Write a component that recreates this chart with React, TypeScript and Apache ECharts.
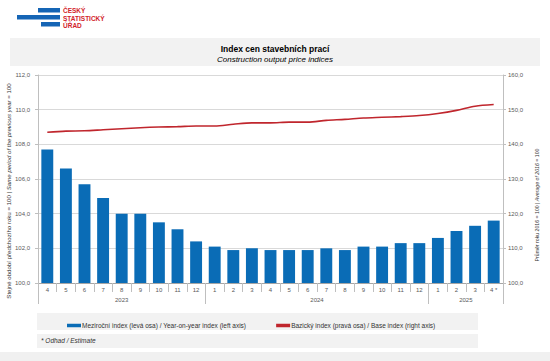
import React, { useEffect, useRef } from "react";
import * as echarts from "echarts";

const months = ["4","5","6","7","8","9","10","11","12","1","2","3","4","5","6","7","8","9","10","11","12","1","2","3","4 *"];
const yearLabels = ["2023", "2024", "2025"];
const yearCounts = [9, 12, 4];
const yoyIndex = [107.7,106.6,105.7,104.9,104.0,104.0,103.5,103.1,102.4,102.1,101.9,102.0,101.9,101.9,101.9,102.0,101.9,102.1,102.1,102.3,102.3,102.6,103.0,103.3,103.6];
const baseIndex = [143.5,143.8,143.9,144.2,144.5,144.8,145.0,145.1,145.3,145.3,145.8,146.2,146.2,146.4,146.4,146.9,147.2,147.6,147.8,148.0,148.3,148.9,149.8,151.0,151.5];

const seriesNames = [
  "Meziroční index (levá osa) / Year-on-year index (left axis)",
  "Bazický index (pravá osa) / Base index (right axis)",
];

const FONT = "'Liberation Sans', Arial, sans-serif";
const BLUE = "#0a6cb6";
const RED = "#c0262d";
const TXT = "#595959";

export default function App() {
  const ref = useRef<HTMLDivElement>(null);
  useEffect(() => {
    if (!ref.current) return;
    const chart = echarts.init(ref.current, null, { renderer: "svg" });

    const boundaries: number[] = [0];
    const centers: number[] = [];
    let acc = 0;
    yearCounts.forEach((c) => {
      centers.push(acc + c / 2);
      acc += c;
      boundaries.push(acc);
    });

    const fmt = (v: number) => v.toFixed(1).replace(".", ",");

    chart.setOption({
      animation: false,
      backgroundColor: "#ffffff",
      textStyle: { fontFamily: FONT },
      title: {
        text: "Index cen stavebních prací",
        subtext: "Construction output price indices",
        left: "center",
        top: 39,
        itemGap: 2,
        textStyle: { fontSize: 8.5, fontWeight: "bold", color: "#000", fontFamily: FONT },
        subtextStyle: { fontSize: 8, fontStyle: "italic", color: "#000", fontFamily: FONT },
      },
      graphic: [
        { type: "rect", z: -10, shape: { x: 10, y: 38, width: 530, height: 28 }, style: { fill: "#f2f2f2" } },
        { type: "rect", z: -10, shape: { x: 37, y: 313, width: 441, height: 17 }, style: { fill: "#f2f2f2" } },
        { type: "rect", z: -10, shape: { x: 37, y: 334, width: 441, height: 14 }, style: { fill: "#f2f2f2" } },
        { type: "rect", z: -10, shape: { x: 0, y: 352, width: 550, height: 9 }, style: { fill: "#f0f0f0" } },
        { type: "text", x: 41, y: 337, style: { text: "* Odhad / Estimate", font: "italic 6.5px " + FONT, fill: "#333" } },
        { type: "rect", shape: { x: 38, y: 8, width: 22, height: 4.5 }, style: { fill: "#1565b5" } },
        { type: "rect", shape: { x: 17, y: 15, width: 43, height: 4.5 }, style: { fill: "#1565b5" } },
        { type: "rect", shape: { x: 41, y: 22, width: 19, height: 4.5 }, style: { fill: "#1565b5" } },
        { type: "text", x: 63, y: 7, style: { text: "ČESKÝ", font: "bold 6.5px " + FONT, fill: "#d2232a" } },
        { type: "text", x: 63, y: 14.5, style: { text: "STATISTICKÝ", font: "bold 6.5px " + FONT, fill: "#d2232a" } },
        { type: "text", x: 63, y: 22, style: { text: "ÚŘAD", font: "bold 6.5px " + FONT, fill: "#d2232a" } },
        {
          type: "text",
          x: 8,
          y: 191,
          rotation: Math.PI / 2,
          style: {
            text: "{a|Stejné období předchozího roku = 100 | }{b|Same period of the previous year}{a| = 100}",
            align: "center",
            verticalAlign: "middle",
            rich: {
              a: { fontSize: 6.1, fontFamily: FONT, fill: "#333" },
              b: { fontSize: 6.1, fontFamily: FONT, fontStyle: "italic", fill: "#333" },
            },
          },
        },
        {
          type: "text",
          x: 537,
          y: 205,
          rotation: Math.PI / 2,
          style: {
            text: "{a|Průměr roku 2016 = 100 | }{b|Average of 2016}{a| = 100}",
            align: "center",
            verticalAlign: "middle",
            rich: {
              a: { fontSize: 5.2, fontFamily: FONT, fill: "#333" },
              b: { fontSize: 5.2, fontFamily: FONT, fontStyle: "italic", fill: "#333" },
            },
          },
        },
      ],
      legend: {
        left: 62,
        top: 317,
        itemWidth: 14,
        itemHeight: 3.5,
        itemGap: 30,
        textStyle: { fontSize: 6.5, color: "#333", fontFamily: FONT, padding: [0, 0, 0, -4] },
        data: [
          { name: seriesNames[0], icon: "rect" },
          { name: seriesNames[1], icon: "rect" },
        ],
      },
      grid: { left: 38, right: 47, top: 75, bottom: 78 },
      xAxis: [
        {
          type: "category",
          data: months,
          axisLine: { lineStyle: { color: "#a6a6a6", width: 1 } },
          axisTick: { show: true, length: 9, lineStyle: { color: "#bfbfbf" } },
          axisLabel: { fontSize: 6, color: TXT, margin: 4, interval: 0 },
        },
        {
          type: "value",
          min: 0,
          max: 25,
          position: "bottom",
          axisLine: { show: false },
          splitLine: { show: false },
          axisTick: { show: true, length: 21, customValues: boundaries, lineStyle: { color: "#bfbfbf" } },
          axisLabel: {
            fontSize: 6,
            color: TXT,
            margin: 14,
            customValues: centers,
            formatter: (v: number) => {
              const i = centers.findIndex((c) => Math.abs(c - v) < 1e-6);
              return i >= 0 ? yearLabels[i] : "";
            },
          },
        },
      ],
      yAxis: [
        {
          type: "value",
          min: 100,
          max: 112,
          interval: 2,
          axisLine: { show: true, lineStyle: { color: "#bfbfbf" } },
          axisTick: { show: true, length: 3, lineStyle: { color: "#bfbfbf" } },
          axisLabel: { fontSize: 6, color: TXT, margin: 8, formatter: fmt },
          splitLine: { lineStyle: { color: "#d9d9d9", width: 1 } },
        },
        {
          type: "value",
          min: 100,
          max: 160,
          interval: 10,
          position: "right",
          axisLine: { show: true, lineStyle: { color: "#bfbfbf" } },
          axisTick: { show: true, length: 3, lineStyle: { color: "#bfbfbf" } },
          axisLabel: { fontSize: 6, color: TXT, margin: 5, formatter: fmt },
          splitLine: { show: false },
        },
      ],
      series: [
        {
          name: seriesNames[0],
          type: "bar",
          xAxisIndex: 0,
          yAxisIndex: 0,
          data: yoyIndex,
          barWidth: "64%",
          itemStyle: { color: BLUE },
        },
        {
          name: seriesNames[1],
          type: "line",
          xAxisIndex: 0,
          yAxisIndex: 1,
          data: baseIndex,
          smooth: 0.3,
          symbol: "none",
          lineStyle: { color: RED, width: 1.6 },
          itemStyle: { color: RED },
        },
      ],
    });
    return () => chart.dispose();
  }, []);
  return (
    <div
      ref={ref}
      style={{ position: "fixed", left: 0, top: 0, width: 550, height: 361, background: "#fff" }}
    />
  );
}
